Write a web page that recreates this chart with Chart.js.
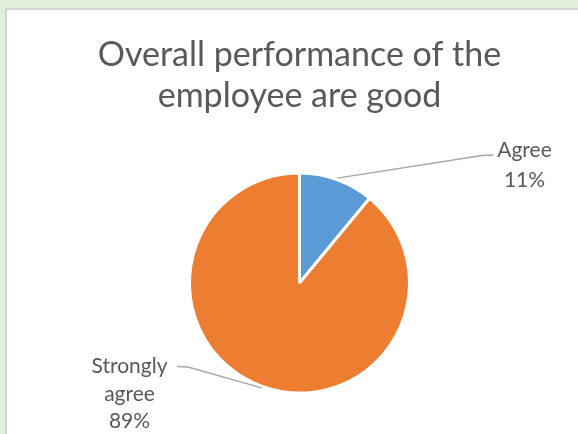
<!DOCTYPE html>
<html lang="en">
  <head>
    <meta charset="UTF-8" />
    <title>Overall performance</title>
    <style>
      body {
        margin: 0;
        background: #e2efd9;
        width: 578px;
        height: 434px;
        overflow: hidden;
      }
      .frame {
        position: absolute;
        left: 5px;
        top: 8px;
        width: 571px;
        height: 424px;
        border-left: 2px solid #d4d4d4;
        border-top: 2px solid #d4d4d4;
        background: #fff;
      }
    </style>
  </head>
  <body>
    <div class="frame">
      <canvas id="pie"></canvas>
    </div>

    <script src="https://cdn.jsdelivr.net/npm/chart.js"></script>
    <script>
      // data
      const categories = ["Agree", "Strongly agree"];
      const labelLines = [["Agree"], ["Strongly", "agree"]];
      const values = [11, 89];
      const colors = ["#5b9bd5", "#ed7d31"];
      const titleLines = ["Overall performance of the", "employee are good"];

      const textColor = "#595959";

      // where each outside label sits (canvas px): centre x, first baseline, elbow of leader
      const labelPlace = [
        { x: 517.5, y: 147, lineH: 29.5, elbow: [475, 145.5], end: [486, 145] },
        { x: 122.5, y: 363, lineH: 27.5, elbow: [181, 357], end: [170, 356.5] },
      ];

      const outsideLabels = {
        id: "outsideLabels",
        afterDatasetsDraw(chart) {
          const ctx = chart.ctx;
          const total = values.reduce((a, b) => a + b, 0);
          const arcs = chart.getDatasetMeta(0).data;
          ctx.save();
          arcs.forEach((arc, i) => {
            const p = arc.getProps(["x", "y", "startAngle", "endAngle", "outerRadius"], true);
            const mid = (p.startAngle + p.endAngle) / 2;
            const r = p.outerRadius + 1.5;
            const sx = p.x + Math.cos(mid) * r;
            const sy = p.y + Math.sin(mid) * r;
            const lp = labelPlace[i];

            ctx.strokeStyle = "#a6a6a6";
            ctx.lineWidth = 1.3;
            ctx.beginPath();
            ctx.moveTo(sx, sy);
            ctx.lineTo(lp.elbow[0], lp.elbow[1]);
            ctx.lineTo(lp.end[0], lp.end[1]);
            ctx.stroke();

            const pct = Math.round((values[i] / total) * 100) + "%";
            const lines = labelLines[i].concat([pct]);
            ctx.fillStyle = textColor;
            ctx.font = "21px Lato";
            ctx.textAlign = "center";
            ctx.textBaseline = "alphabetic";
            lines.forEach((t, k) => {
              ctx.fillText(t, lp.x, lp.y + k * lp.lineH);
            });
          });
          ctx.restore();
        },
      };

      new Chart(document.getElementById("pie"), {
        type: "pie",
        data: {
          labels: categories,
          datasets: [
            {
              data: values,
              backgroundColor: colors,
              borderColor: "#ffffff",
              borderWidth: 3,
              radius: 110,
            },
          ],
        },
        options: {
          responsive: true,
          maintainAspectRatio: false,
          animation: false,
          layout: { padding: { left: 14, right: 0, top: 0, bottom: 0 } },
          plugins: {
            legend: { display: false },
            tooltip: { enabled: false },
            title: {
              display: true,
              text: titleLines,
              color: textColor,
              font: { family: "Lato", size: 34, weight: "normal", lineHeight: 1.22 },
              padding: { top: 24, bottom: 15 },
            },
          },
        },
        plugins: [outsideLabels],
      });
    </script>
  </body>
</html>
